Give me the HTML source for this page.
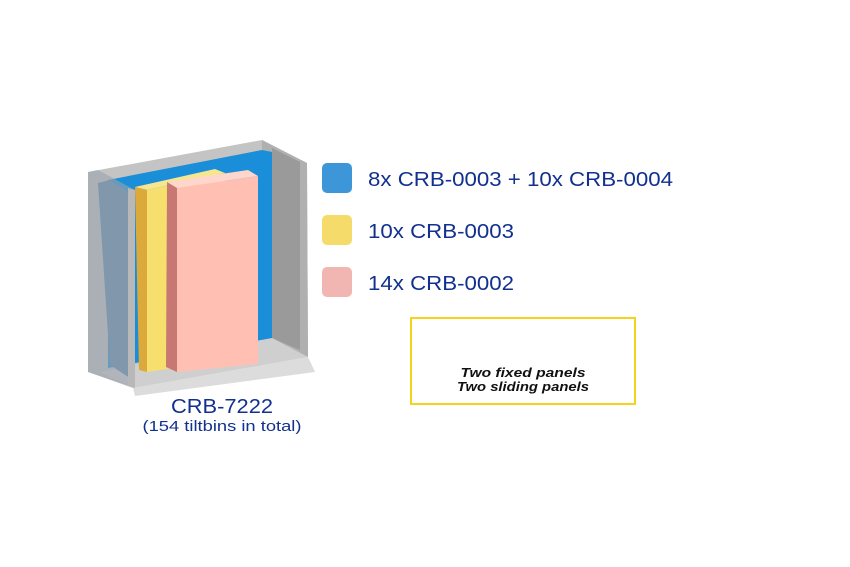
<!DOCTYPE html>
<html><head><meta charset="utf-8"><style>
html,body{margin:0;padding:0;background:#fff;}
svg{display:block;}
</style></head><body>
<svg width="850" height="567" viewBox="0 0 850 567" xmlns="http://www.w3.org/2000/svg">
<rect width="850" height="567" fill="#fff"/>
<!-- back wall -->
<polygon points="88,172 262,140 307,163 308,357 133,388 88,372" fill="#c4c4c4"/>
<polygon points="262,140 307,163 308,357 262,343" fill="#b0b0b0"/>
<polygon points="272,148 300,162 300,350 272,338" fill="#9a9a9a"/>
<!-- floor -->
<polygon points="100,372 272,338 308,357 133,388" fill="#cfcfcf"/>
<polygon points="133,388 308,357 315,372 135,396" fill="#dcdcdc"/>
<!-- blue back block -->
<polygon points="108,180 262,150 272,152 272,338 108,368" fill="#1a8ed8"/>
<polygon points="98,183 110,180 133,195 133,380 110,365" fill="#5a84aa"/>
<!-- front-left panel -->
<polygon points="88,172 98,170 135,190 135,388 88,372" fill="#9aa4ae" fill-opacity="0.6"/>
<polygon points="128,188 135,190 135,388 128,386" fill="#b8b8b8"/>
<!-- yellow -->
<polygon points="135,187 215,169 225,173 147,190" fill="#f7e690"/>
<polygon points="135,187 147,190 147,372 139,370" fill="#dcaa3a"/>
<polygon points="147,190 225,173 225,360 147,372" fill="#f6df6c"/>
<!-- pink -->
<polygon points="167,182 248,170 258,176 177,188" fill="#ffd6cc"/>
<polygon points="167,182 177,188 177,372 166,367" fill="#c87872"/>
<polygon points="177,188 258,176 258,364 177,372" fill="#ffc0b3"/>
<!-- legend -->
<rect x="322" y="163" width="30" height="30" rx="5" fill="#3d96d8"/>
<rect x="322" y="215" width="30" height="30" rx="5" fill="#f5dc6a"/>
<rect x="322" y="267" width="30" height="30" rx="5" fill="#f2b6b2"/>
<g font-family="Liberation Sans, sans-serif" font-size="20" fill="#12318f">
<text x="368" y="186" textLength="305" lengthAdjust="spacingAndGlyphs">8x CRB-0003 + 10x CRB-0004</text>
<text x="368" y="238" textLength="146" lengthAdjust="spacingAndGlyphs">10x CRB-0003</text>
<text x="368" y="290" textLength="146" lengthAdjust="spacingAndGlyphs">14x CRB-0002</text>
<text x="222" y="413" text-anchor="middle" textLength="102" lengthAdjust="spacingAndGlyphs">CRB-7222</text>
<text x="222" y="431" text-anchor="middle" font-size="15" textLength="159" lengthAdjust="spacingAndGlyphs">(154 tiltbins in total)</text>
</g>
<rect x="411" y="318" width="224" height="86" fill="none" stroke="#f5d21c" stroke-width="2"/>
<g font-family="Liberation Sans, sans-serif" font-size="13" font-style="italic" font-weight="bold" fill="#111" text-anchor="middle">
<text x="523" y="377" textLength="125" lengthAdjust="spacingAndGlyphs">Two fixed panels</text>
<text x="523" y="391" textLength="132" lengthAdjust="spacingAndGlyphs">Two sliding panels</text>
</g>
</svg>
</body></html>
